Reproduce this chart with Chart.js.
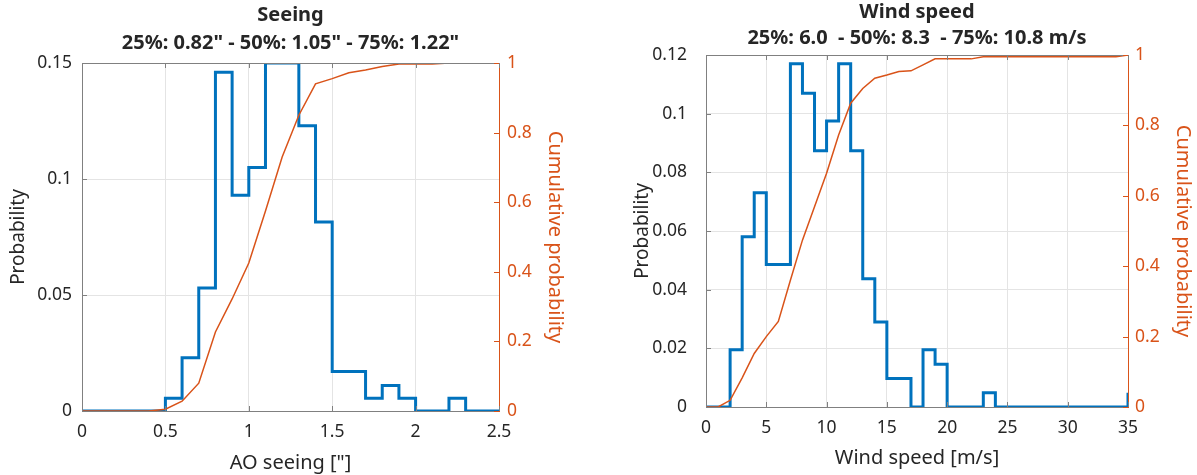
<!DOCTYPE html>
<html>
<head>
<meta charset="utf-8">
<script src="https://cdn.jsdelivr.net/npm/chart.js@4.4.1/dist/chart.umd.min.js"></script>
<style>
  body { margin: 0; background: #fff; }
  .panel { position: absolute; top: 0; }
</style>
</head>
<body>
<canvas id="seeingChart" class="panel" width="598" height="475" style="left:0"></canvas>
<canvas id="windChart" class="panel" width="599" height="475" style="left:598px"></canvas>
<script>
// Seeing histogram (bin edges, probability per bin) and cumulative curve
const seeingEdges = [0, 0.1, 0.2, 0.3, 0.4, 0.5, 0.6, 0.7, 0.8, 0.9, 1.0, 1.1, 1.2,
  1.3, 1.4, 1.5, 1.6, 1.7, 1.8, 1.9, 2.0, 2.1, 2.2, 2.3, 2.4, 2.5];
const seeingProb = [0, 0, 0, 0, 0, 0.0055, 0.023, 0.053, 0.146, 0.093, 0.105, 0.15,
  0.15, 0.123, 0.0815, 0.017, 0.017, 0.0055, 0.011, 0.0055, 0, 0, 0.0055, 0, 0];
const seeingCdfX = [0, 0.4, 0.5, 0.6, 0.7, 0.8, 0.9, 1.0, 1.1, 1.2, 1.3, 1.4, 1.5,
  1.6, 1.7, 1.8, 1.9, 2.0, 2.1, 2.2, 2.3, 2.4, 2.5];
const seeingCdf = [0, 0, 0.005, 0.028, 0.08, 0.227, 0.322, 0.425, 0.575, 0.73, 0.85,
  0.94, 0.955, 0.972, 0.98, 0.99, 0.997, 0.997, 0.997, 1, 1, 1, 1];

// Wind speed histogram and cumulative curve
const windEdges = [0, 1, 2, 3, 4, 5, 6, 7, 8, 9, 10, 11, 12, 13, 14, 15, 16, 17, 18,
  19, 20, 21, 22, 23, 24, 25, 26, 27, 28, 29, 30, 31, 32, 33, 34, 35, 36];
const windProb = [0, 0, 0.0195, 0.058, 0.073, 0.0486, 0.0486, 0.117, 0.107, 0.0874,
  0.0975, 0.117, 0.0874, 0.0437, 0.029, 0.0097, 0.0097, 0, 0.0195, 0.0146, 0, 0, 0,
  0.0049, 0, 0, 0, 0, 0, 0, 0, 0, 0, 0, 0, 0.0049];
const windCdfX = [0, 1, 2, 3, 4, 5, 6, 7, 8, 9, 10, 11, 12, 13, 14, 15, 16, 17, 18,
  19, 20, 21, 22, 23, 24, 25, 26, 27, 28, 29, 30, 31, 32, 33, 34, 35];
const windCdf = [0, 0, 0.019, 0.083, 0.152, 0.2, 0.243, 0.36, 0.474, 0.569, 0.664,
  0.773, 0.863, 0.905, 0.934, 0.943, 0.953, 0.955, 0.972, 0.989, 0.989, 0.989, 0.989,
  0.995, 0.995, 0.995, 0.995, 0.995, 0.995, 0.995, 0.995, 0.995, 0.995, 0.995, 0.995, 1];

const blue = "#0072BD";
const orange = "#D95319";
const axisGrey = "#808080";
const gridGrey = "#e4e4e4";
const textColor = "#262626";

Chart.defaults.font.family = "'Noto Sans', sans-serif";
Chart.defaults.font.size = 17.5;
Chart.defaults.color = textColor;

// turn bin edges + values into points for a stepped line
function stairs(edges, values) {
  const pts = values.map((v, i) => ({ x: edges[i], y: v }));
  pts.push({ x: edges[edges.length - 1], y: values[values.length - 1] });
  return pts;
}

function toPoints(xs, ys) {
  return xs.map((x, i) => ({ x: x, y: ys[i] }));
}

// 0.10 -> "0.1", 1.0 -> "1"
const shortNum = (v) => parseFloat(v.toFixed(4)).toString();

// top border and inward tick marks, like a matlab axes box
const boxPlugin = {
  id: "box",
  afterDraw(chart) {
    const { ctx, chartArea: a, scales } = chart;
    ctx.save();
    ctx.lineWidth = 1;
    ctx.strokeStyle = axisGrey;
    ctx.beginPath();
    ctx.moveTo(a.left, a.top + 0.5);
    ctx.lineTo(a.right, a.top + 0.5);
    scales.x.ticks.forEach((t) => {
      const px = Math.round(scales.x.getPixelForValue(t.value)) + 0.5;
      ctx.moveTo(px, a.bottom);
      ctx.lineTo(px, a.bottom - 5);
      ctx.moveTo(px, a.top);
      ctx.lineTo(px, a.top + 5);
    });
    scales.y.ticks.forEach((t) => {
      const py = Math.round(scales.y.getPixelForValue(t.value)) + 0.5;
      ctx.moveTo(a.left, py);
      ctx.lineTo(a.left + 5, py);
    });
    ctx.stroke();
    ctx.strokeStyle = orange;
    ctx.beginPath();
    scales.y2.ticks.forEach((t) => {
      const py = Math.round(scales.y2.getPixelForValue(t.value)) + 0.5;
      ctx.moveTo(a.right, py);
      ctx.lineTo(a.right - 5, py);
    });
    ctx.stroke();
    ctx.restore();
  },
};

function makeChart(id, cfg) {
  return new Chart(document.getElementById(id), {
    type: "line",
    data: {
      datasets: [
        {
          label: "Cumulative probability",
          data: cfg.cdf,
          yAxisID: "y2",
          borderColor: orange,
          borderWidth: 1.5,
          pointRadius: 0,
          order: 0,
        },
        {
          label: "Probability",
          data: cfg.hist,
          yAxisID: "y",
          stepped: "before",
          borderColor: blue,
          borderWidth: 3,
          pointRadius: 0,
          order: 1,
        },
      ],
    },
    options: {
      responsive: false,
      animation: false,
      layout: { padding: 0 },
      plugins: {
        legend: { display: false },
        tooltip: { enabled: false },
        title: {
          display: true,
          text: cfg.title,
          fullSize: false,
          color: textColor,
          font: { size: 20, weight: "bold" },
          padding: cfg.titlePad,
        },
        subtitle: {
          display: true,
          text: cfg.subtitle,
          fullSize: false,
          color: textColor,
          font: { size: 20, weight: "bold" },
          padding: cfg.subtitlePad,
        },
      },
      scales: {
        x: {
          type: "linear",
          min: cfg.xMin,
          max: cfg.xMax,
          ticks: { stepSize: cfg.xStep, padding: cfg.xTickPad, color: textColor, callback: shortNum },
          grid: { color: gridGrey, drawTicks: false },
          border: { color: axisGrey },
          title: {
            display: true,
            text: cfg.xTitle,
            color: textColor,
            font: { size: 20 },
            padding: { top: 0, bottom: cfg.xTitlePad },
          },
          afterFit: (s) => { s.height = cfg.xHeight; },
        },
        y: {
          position: "left",
          min: 0,
          max: cfg.yMax,
          ticks: { stepSize: cfg.yStep, padding: cfg.yTickPad, color: textColor, callback: shortNum },
          grid: { color: gridGrey, drawTicks: false },
          border: { color: axisGrey },
          title: {
            display: true,
            text: "Probability",
            color: textColor,
            font: { size: 19 },
            padding: { top: cfg.yTitlePad, bottom: 0 },
          },
          afterFit: (s) => { s.width = cfg.yWidth; },
        },
        y2: {
          position: "right",
          min: 0,
          max: 1,
          ticks: { stepSize: 0.2, padding: cfg.y2TickPad, color: orange, callback: shortNum },
          grid: { display: false, drawTicks: false },
          border: { color: orange },
          title: {
            display: true,
            text: "Cumulative probability",
            color: orange,
            font: { size: 20 },
            padding: { top: cfg.y2TitlePad, bottom: 0 },
          },
          afterFit: (s) => { s.width = cfg.y2Width; },
        },
      },
    },
    plugins: [boxPlugin],
  });
}

makeChart("seeingChart", {
  hist: stairs(seeingEdges, seeingProb),
  cdf: toPoints(seeingCdfX, seeingCdf),
  title: "Seeing",
  subtitle: "25%: 0.82\" - 50%: 1.05\" - 75%: 1.22\"",
  titlePad: { top: 3, bottom: 0 },
  subtitlePad: { top: 4, bottom: 8 },
  xMin: 0, xMax: 2.5, xStep: 0.5, xTitle: "AO seeing [\"]",
  yMax: 0.15, yStep: 0.05,
  xHeight: 64, yWidth: 82, y2Width: 99,
  xTickPad: 11, xTitlePad: 0, yTickPad: 10, yTitlePad: 7, y2TickPad: 8, y2TitlePad: 31,
});

makeChart("windChart", {
  hist: stairs(windEdges, windProb),
  cdf: toPoints(windCdfX, windCdf),
  title: "Wind speed",
  subtitle: "25%: 6.0  - 50%: 8.3  - 75%: 10.8 m/s",
  titlePad: { top: 0, bottom: 0 },
  subtitlePad: { top: 2, bottom: 5 },
  xMin: 0, xMax: 35, xStep: 5, xTitle: "Wind speed [m/s]",
  yMax: 0.12, yStep: 0.02,
  xHeight: 68, yWidth: 108, y2Width: 69,
  xTickPad: 11, xTitlePad: 5, yTickPad: 19, yTitlePad: 33, y2TickPad: 7, y2TitlePad: 2,
});
</script>
</body>
</html>
